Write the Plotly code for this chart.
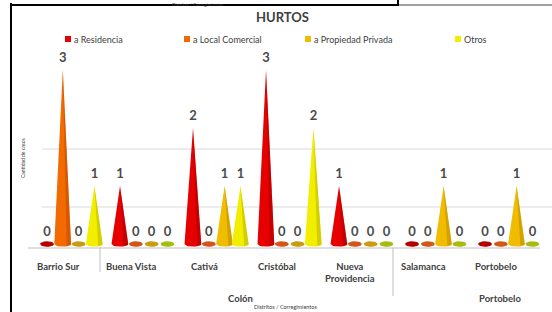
import numpy as np
import plotly.graph_objects as go

# ---------------- data ----------------
categories = ["Barrio Sur", "Buena Vista", "Cativá", "Cristóbal",
              "Nueva<br>Providencia", "Salamanca", "Portobelo"]
group_labels = ["Colón", "Portobelo"]
series_names = ["a Residencia", "a Local Comercial", "a Propiedad Privada", "Otros"]
residencia = [0, 1, 2, 3, 1, 0, 0]
local_comercial = [3, 0, 0, 0, 0, 0, 0]
propiedad_privada = [0, 0, 1, 0, 0, 1, 1]
otros = [1, 0, 1, 2, 0, 0, 0]
title_text = "HURTOS"
x_title = "Distritos / Corregimientos"
y_title = "Cantidad de casos"

series_values = [residencia, local_comercial, propiedad_privada, otros]
main_colors = ["#E60000", "#F26A00", "#F0BC00", "#F2EE00"]
dark_colors = ["#A80000", "#C04A00", "#B88C00", "#B8B400"]
zero_colors = ["#B40000", "#D2561A", "#C89C10", "#A8BC10"]

# ---------------- geometry helpers ----------------
W, H = 552, 312
X0, XS = 58.0, 73.0      # px of category 0 and px per category
Y0, YS = 244.0, 58.0     # px of value 0 and px per unit
xr = [-X0 / XS, (W - X0) / XS]
yr = [(Y0 - H) / YS, Y0 / YS]


def px2dx(px):
    return (px - X0) / XS


def py2dy(py):
    return (Y0 - py) / YS


def PX(px):
    return px / W


def PY(py):
    return 1 - py / H


hw = 8.5 / XS
eh = 2.6 / YS
hz = 7.0 / XS
ehz = 2.8 / YS

fig = go.Figure()

for j, (name, vals) in enumerate(zip(series_names, series_values)):
    bx, by, sx, sy, zx, zy = [], [], [], [], [], []
    lx, ly, lt = [], [], []
    for i, v in enumerate(vals):
        xc = i + (-11.0 + 15.8 * j) / XS
        if v > 0:
            t = np.linspace(0, -np.pi, 14)
            bx += [xc] + list(xc + hw * np.cos(t)) + [xc, None]
            by += [v] + list(eh * np.sin(t)) + [v, None]
            t2 = np.linspace(0, -1.1, 6)
            sx += [xc] + list(xc + hw * np.cos(t2)) + [xc, None]
            sy += [v] + list(eh * np.sin(t2)) + [v, None]
        else:
            t = np.linspace(0, 2 * np.pi, 20)
            zx += list(xc + hz * np.cos(t)) + [None]
            zy += list(ehz * np.sin(t)) + [None]
        lx.append(xc)
        ly.append(v + 11.0 / YS)
        lt.append(str(v))
    if bx:
        fig.add_trace(go.Scatter(x=bx, y=by, mode="lines", fill="toself",
                                 fillcolor=main_colors[j], line=dict(width=0),
                                 hoverinfo="skip", showlegend=False))
        fig.add_trace(go.Scatter(x=sx, y=sy, mode="lines", fill="toself",
                                 fillcolor=dark_colors[j], line=dict(width=0),
                                 opacity=0.55, hoverinfo="skip", showlegend=False))
    if zx:
        fig.add_trace(go.Scatter(x=zx, y=zy, mode="lines", fill="toself",
                                 fillcolor=zero_colors[j], line=dict(width=0),
                                 hoverinfo="skip", showlegend=False))
    fig.add_trace(go.Scatter(x=lx, y=ly, mode="text", text=lt,
                             textfont=dict(family="Lato", size=13, color="#4A4A4A",
                                           weight="bold"),
                             hoverinfo="skip", showlegend=False))

shapes = []
# gridlines (back wall)
for gpy in [207, 149]:
    shapes.append(dict(type="line", xref="x", yref="y", x0=px2dx(42), x1=px2dx(552),
                       y0=py2dy(gpy), y1=py2dy(gpy), line=dict(color="#D9D9D9", width=1),
                       layer="below"))
# axis line
shapes.append(dict(type="line", xref="x", yref="y", x0=px2dx(28), x1=px2dx(540),
                   y0=py2dy(248), y1=py2dy(248), line=dict(color="#BFBFBF", width=1)))
# group separators
shapes.append(dict(type="line", xref="x", yref="y", x0=px2dx(100), x1=px2dx(100),
                   y0=py2dy(248), y1=py2dy(272), line=dict(color="#BFBFBF", width=1)))
shapes.append(dict(type="line", xref="x", yref="y", x0=px2dx(393), x1=px2dx(393),
                   y0=py2dy(248), y1=py2dy(296), line=dict(color="#BFBFBF", width=1)))
# page frame lines
shapes.append(dict(type="line", xref="paper", yref="paper", x0=PX(11), x1=PX(11),
                   y0=PY(3), y1=PY(313), line=dict(color="#000000", width=2)))
shapes.append(dict(type="line", xref="paper", yref="paper", x0=PX(10), x1=PX(399),
                   y0=PY(5), y1=PY(5), line=dict(color="#000000", width=2)))
shapes.append(dict(type="line", xref="paper", yref="paper", x0=PX(398), x1=PX(398),
                   y0=PY(-1), y1=PY(5), line=dict(color="#000000", width=2)))
shapes.append(dict(type="line", xref="paper", yref="paper", x0=PX(399), x1=PX(552),
                   y0=PY(5), y1=PY(5), line=dict(color="#808080", width=1.5)))

annotations = []
# title
annotations.append(dict(xref="paper", yref="paper", x=PX(283), y=PY(17), text="<b>" + title_text + "</b>",
                        showarrow=False, yanchor="middle",
                        font=dict(family="Lato", size=13, color="#404040")))
# legend
leg_sq = [68, 187, 308, 458]
for j, name in enumerate(series_names):
    shapes.append(dict(type="rect", xref="paper", yref="paper",
                       x0=PX(leg_sq[j] - 3), x1=PX(leg_sq[j] + 3), y0=PY(42), y1=PY(36),
                       fillcolor=main_colors[j], line=dict(width=0)))
    annotations.append(dict(xref="paper", yref="paper", x=PX(leg_sq[j] + 4), y=PY(39),
                            text=name, showarrow=False, xanchor="left", yanchor="middle",
                            font=dict(family="Lato", size=9, color="#404040")))
# category labels
for i, c in enumerate(categories):
    annotations.append(dict(xref="x", yref="y", x=i, y=py2dy(259), text="<b>" + c + "</b>",
                            showarrow=False, yanchor="top",
                            font=dict(family="Lato", size=9.5, color="#404040")))
# group labels
for gx, g in zip([240, 500], group_labels):
    annotations.append(dict(xref="x", yref="y", x=px2dx(gx), y=py2dy(298), text="<b>" + g + "</b>",
                            showarrow=False, yanchor="middle",
                            font=dict(family="Lato", size=9.5, color="#404040")))
# axis titles
annotations.append(dict(xref="paper", yref="paper", x=PX(285), y=PY(307), text=x_title,
                        showarrow=False, yanchor="middle",
                        font=dict(family="Lato", size=5.5, color="#404040")))
annotations.append(dict(xref="paper", yref="paper", x=PX(170), y=PY(0), text=x_title,
                        showarrow=False, yanchor="top",
                        font=dict(family="Lato", size=4.5, color="#404040")))
annotations.append(dict(xref="paper", yref="paper", x=PX(18), y=PY(158), text=y_title,
                        textangle=-90, showarrow=False, yanchor="middle",
                        font=dict(family="Lato", size=5, color="#404040")))

fig.update_layout(
    width=W, height=H,
    margin=dict(l=0, r=0, t=0, b=0),
    paper_bgcolor="white", plot_bgcolor="white",
    xaxis=dict(range=xr, visible=False, fixedrange=True),
    yaxis=dict(range=yr, visible=False, fixedrange=True),
    shapes=shapes, annotations=annotations,
    showlegend=False,
)

fig.write_html("out.html", config={"displayModeBar": False},
               post_script="document.body.style.margin='0';document.body.style.padding='0';")
